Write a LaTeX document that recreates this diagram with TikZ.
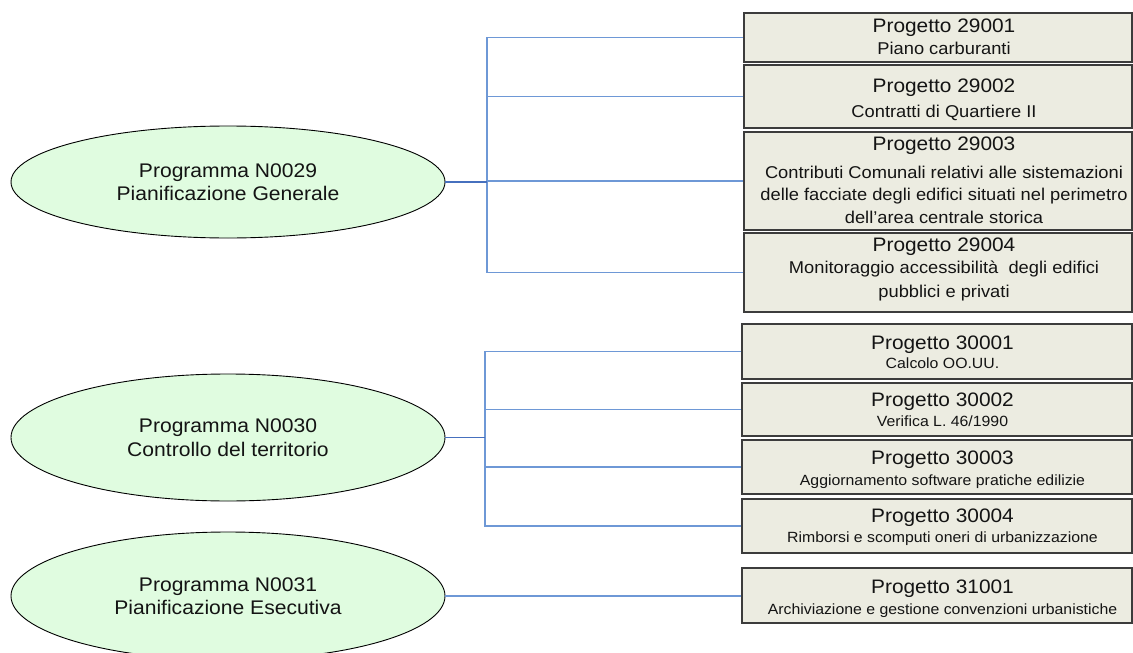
\documentclass[tikz,border=0pt]{standalone}
\usepackage{fontspec}
\setmainfont{Liberation Sans}[FakeStretch=1.07]
\usetikzlibrary{shapes.geometric}
\definecolor{boxfill}{RGB}{236,236,225}
\definecolor{boxdraw}{RGB}{60,60,60}
\definecolor{ellfill}{RGB}{224,252,224}
\definecolor{linkc}{RGB}{110,152,214}
\definecolor{stubc}{RGB}{70,112,190}
\definecolor{txt}{RGB}{20,20,20}
\begin{document}
\begin{tikzpicture}[x=1pt,y=-1pt,
 pbox/.style={draw=boxdraw, fill=boxfill, line width=1.2pt, rectangle, inner sep=0pt},
 prog/.style={ellipse, draw=black, fill=ellfill, line width=0.9pt, inner sep=0pt, minimum width=434pt, align=center, text=txt, font=\fontsize{19.7}{23.5}\selectfont},
 ttl/.style={anchor=base, inner sep=0pt, text=txt, font=\fontsize{19.5}{22}\selectfont},
 dsc/.style={anchor=base, inner sep=0pt, text=txt, font=\fontsize{17.1}{20}\selectfont},
 dss/.style={anchor=base, inner sep=0pt, text=txt, font=\fontsize{14.8}{18}\selectfont},
 link/.style={draw=linkc, line width=1.2pt},
 stub/.style={draw=stubc, line width=1.2pt}]
\useasboundingbox (0,0) rectangle (1133,653);
\clip (0,0) rectangle (1133,653);

% programmes
\node[prog, minimum height=112pt] (e1) at (228,182) {Programma N0029\\Pianificazione Generale};
\node[prog, minimum height=127pt] (e2) at (228,437.5) {Programma N0030\\Controllo del territorio};
\node[prog, minimum height=128pt] (e3) at (228,596) {Programma N0031\\Pianificazione Esecutiva};

% project boxes, group 1
\node[pbox, minimum width=388pt, minimum height=49pt] (b1) at (938,37.5) {};
\node[pbox, minimum width=388pt, minimum height=63pt] (b2) at (938,96.5) {};
\node[pbox, minimum width=388pt, minimum height=98pt] (b3) at (938,181) {};
\node[pbox, minimum width=388pt, minimum height=79pt] (b4) at (938,272.5) {};
% group 2
\node[pbox, minimum width=390pt, minimum height=55pt] (b5) at (937,351.5) {};
\node[pbox, minimum width=390pt, minimum height=53pt] (b6) at (937,409.5) {};
\node[pbox, minimum width=390pt, minimum height=54pt] (b7) at (937,467) {};
\node[pbox, minimum width=390pt, minimum height=54pt] (b8) at (937,526) {};
\node[pbox, minimum width=390pt, minimum height=55pt] (b9) at (937,595.5) {};

% texts
\node[ttl] (t1) at (944,32) {Progetto 29001};
\node[dsc] (d1) at (944,54) {Piano carburanti};
\node[ttl] (t2) at (944,92.5) {Progetto 29002};
\node[dsc] (d2) at (944,117.5) {Contratti di Quartiere II};
\node[ttl] (t3) at (944,150.5) {Progetto 29003};
\node[dsc] (d3a) at (944,178) {Contributi Comunali relativi alle sistemazioni};
\node[dsc] (d3b) at (944,200.5) {delle facciate degli edifici situati nel perimetro};
\node[dsc] (d3c) at (944,223) {dell’area centrale storica};
\node[ttl] (t4) at (944,251) {Progetto 29004};
\node[dsc] (d4a) at (944,273.5) {Monitoraggio accessibilità~ degli edifici};
\node[dsc] (d4b) at (944,297) {pubblici e privati};

\node[ttl] (t5) at (942.5,349.3) {Progetto 30001};
\node[dss] (d5) at (942.5,368.3) {Calcolo OO.UU.};
\node[ttl] (t6) at (942.5,406.7) {Progetto 30002};
\node[dss] (d6) at (942.5,426.7) {Verifica L. 46/1990};
\node[ttl] (t7) at (942.5,464) {Progetto 30003};
\node[dss] (d7) at (942.5,485.7) {Aggiornamento software pratiche edilizie};
\node[ttl] (t8) at (942.5,522.7) {Progetto 30004};
\node[dss] (d8) at (942.5,542.7) {Rimborsi e scomputi oneri di urbanizzazione};
\node[ttl] (t9) at (942.5,593.3) {Progetto 31001};
\node[dss] (d9) at (942.5,614) {Archiviazione e gestione convenzioni urbanistiche};

% connectors
\coordinate (j1) at (487,182);
\coordinate (j2) at (485,437.5);
\draw[link] (j1) |- (b1.west);
\draw[link] (j1) |- (b2.west);
\draw[link] (j1) |- (b3.west);
\draw[link] (j1) |- (b4.west);
\draw[stub] (e1.east) -- (j1);
\draw[link] (j2) |- (b5.west);
\draw[link] (j2) |- (b6.west);
\draw[link] (j2) |- (b7.west);
\draw[link] (j2) |- (b8.west);
\draw[stub] (e2.east) -- (j2);
\draw[link] (e3.east) -- (e3.east -| b9.west);
\end{tikzpicture}
\end{document}
